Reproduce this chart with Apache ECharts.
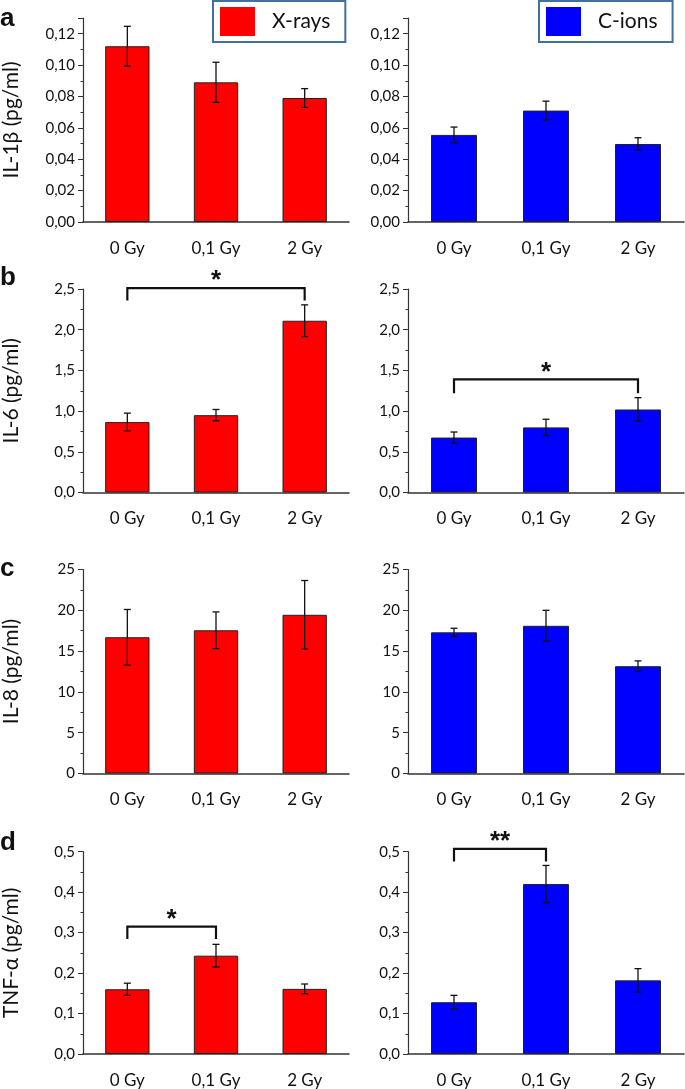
<!DOCTYPE html>
<html>
<head>
<meta charset="utf-8">
<script src="https://cdn.jsdelivr.net/npm/echarts@6/dist/echarts.min.js"></script>
<style>
html,body{margin:0;padding:0;background:#fff;}
#chart{width:685px;height:1089px;}
</style>
</head>
<body>
<div id="chart"></div>
<script>
// ---- data ----
const categories = ['0 Gy', '0,1 Gy', '2 Gy'];
const seriesNames = ['X-rays', 'C-ions'];
const panelLetters = ['a', 'b', 'c', 'd'];
const yTitles = ['IL-1β (pg/ml)', 'IL-6 (pg/ml)', 'IL-8 (pg/ml)', 'TNF-α (pg/ml)'];

const il1bXrays = [0.112, 0.089, 0.079];
const il1bXraysErr = [0.0127, 0.0128, 0.006];
const il1bCions = [0.0555, 0.071, 0.0497];
const il1bCionsErr = [0.005, 0.006, 0.004];

const il6Xrays = [0.865, 0.95, 2.11];
const il6XraysErr = [0.11, 0.07, 0.195];
const il6Cions = [0.675, 0.80, 1.02];
const il6CionsErr = [0.068, 0.10, 0.145];

const il8Xrays = [16.7, 17.55, 19.45];
const il8XraysErr = [3.4, 2.25, 4.2];
const il8Cions = [17.3, 18.1, 13.15];
const il8CionsErr = [0.5, 1.9, 0.65];

const tnfXrays = [0.16, 0.243, 0.161];
const tnfXraysErr = [0.015, 0.028, 0.012];
const tnfCions = [0.128, 0.42, 0.182];
const tnfCionsErr = [0.017, 0.046, 0.029];

const yMax = [0.13, 2.5, 25, 0.5];
const yInterval = [0.02, 0.5, 5, 0.1];
const yDecimals = [2, 1, 0, 1];

// significance brackets: [fromCategory, toCategory, bracketLevel, legEnd]
const sigXraysB = [0, 2, 2.51, 2.36];
const sigCionsB = [0, 2, 1.39, 1.22];
const sigXraysD = [0, 1, 0.315, 0.284];
const sigCionsD = [0, 1, 0.507, 0.476];
const sigLabels = ['*', '*', '*', '**'];

// ---- layout ----
const colLeft = [76, 408];
const colWidth = [273, 276];
const rowTop = [18, 289, 569.5, 851.7];
const rowHeight = [204, 203.5, 204, 202.6];
const letterTop = [6, 265, 556, 830];
const colors = ['#ff0000', '#0000ff'];
const FONT = 'Lato';

const means = [[il1bXrays, il1bCions], [il6Xrays, il6Cions], [il8Xrays, il8Cions], [tnfXrays, tnfCions]];
const errs = [[il1bXraysErr, il1bCionsErr], [il6XraysErr, il6CionsErr], [il8XraysErr, il8CionsErr], [tnfXraysErr, tnfCionsErr]];
const sigs = [
  {r: 1, c: 0, d: sigXraysB, t: sigLabels[0]},
  {r: 1, c: 1, d: sigCionsB, t: sigLabels[1]},
  {r: 3, c: 0, d: sigXraysD, t: sigLabels[2]},
  {r: 3, c: 1, d: sigCionsD, t: sigLabels[3]}
];

const grid = [], xAxis = [], yAxis = [], series = [];
let gi = 0;
const gridIndexOf = {};
for (let r = 0; r < 4; r++) {
  for (let c = 0; c < 2; c++) {
    grid.push({left: colLeft[c], width: colWidth[c], top: rowTop[r], height: rowHeight[r], containLabel: false});
    gridIndexOf[r + '_' + c] = gi;
    const dec = yDecimals[r];
    const ratio = yMax[r] / yInterval[r];
    xAxis.push({
      type: 'category', gridIndex: gi, data: categories,
      axisLine: {lineStyle: {color: '#333', width: 1.5}},
      axisTick: {alignWithLabel: true, length: 4, lineStyle: {color: '#333', width: 1}},
      axisLabel: {margin: 18, fontSize: 17, color: '#111', fontFamily: FONT}
    });
    xAxis.push({
      type: 'category', gridIndex: gi, data: categories,
      axisLine: {show: false},
      axisTick: {alignWithLabel: false, length: 3, lineStyle: {color: '#333', width: 1}},
      axisLabel: {show: false}
    });
    yAxis.push({
      type: 'value', gridIndex: gi, min: 0, max: yMax[r], interval: yInterval[r],
      name: c === 0 ? yTitles[r] : '', nameLocation: 'middle', nameRotate: 90, nameGap: 61,
      nameTextStyle: {fontSize: 21, color: '#111', fontFamily: FONT},
      splitLine: {show: false},
      axisLine: {show: true, lineStyle: {color: '#333', width: 1.2}},
      axisTick: {show: true, length: 5, lineStyle: {color: '#333'}},
      minorTick: {show: true, splitNumber: 2, length: 2.5, lineStyle: {color: '#333'}},
      axisLabel: {showMaxLabel: Math.abs(ratio - Math.round(ratio)) < 1e-6,
        margin: 8, fontSize: 15, color: '#111', fontFamily: FONT,
        formatter: v => v.toFixed(dec).replace('.', ',')}
    });
    const m = means[r][c], e = errs[r][c];
    series.push({
      name: seriesNames[c], type: 'bar', xAxisIndex: gi * 2, yAxisIndex: gi,
      data: m, barWidth: '50%',
      itemStyle: {color: colors[c], borderColor: '#222', borderWidth: 1},
      silent: true, animation: false
    });
    series.push({
      type: 'custom', xAxisIndex: gi * 2, yAxisIndex: gi, animation: false, silent: true, z: 5,
      data: m.map((v, i) => [i, v - e[i], v + e[i]]),
      renderItem: function (params, api) {
        const hi = api.coord([api.value(0), api.value(2)]);
        const lo = api.coord([api.value(0), api.value(1)]);
        const cw = 3.5;
        const st = {stroke: '#111', lineWidth: 1.3};
        return {type: 'group', children: [
          {type: 'line', shape: {x1: hi[0], y1: hi[1], x2: lo[0], y2: lo[1]}, style: st},
          {type: 'line', shape: {x1: hi[0] - cw, y1: hi[1], x2: hi[0] + cw, y2: hi[1]}, style: st},
          {type: 'line', shape: {x1: lo[0] - cw, y1: lo[1], x2: lo[0] + cw, y2: lo[1]}, style: st}
        ]};
      }
    });
    gi++;
  }
}

sigs.forEach(s => {
  const g = gridIndexOf[s.r + '_' + s.c];
  series.push({
    type: 'custom', xAxisIndex: g * 2, yAxisIndex: g, animation: false, silent: true, z: 6, clip: false,
    data: [s.d],
    renderItem: function (params, api) {
      const a = api.coord([api.value(0), api.value(3)]);
      const b = api.coord([api.value(0), api.value(2)]);
      const cc = api.coord([api.value(1), api.value(2)]);
      const d = api.coord([api.value(1), api.value(3)]);
      return {type: 'group', children: [
        {type: 'polyline', shape: {points: [a, b, cc, d]}, style: {stroke: '#111', lineWidth: 2.2, fill: null}},
        {type: 'text', x: (b[0] + cc[0]) / 2, y: b[1] + 6,
          style: {text: s.t, fill: '#111', fontSize: 26, fontWeight: 'bold', fontFamily: 'Liberation Sans',
            align: 'center', verticalAlign: 'bottom', textAlign: 'center', textVerticalAlign: 'bottom'}}
      ]};
    }
  });
});

const option = {
  backgroundColor: '#fff',
  animation: false,
  title: panelLetters.map((t, r) => ({
    text: t, left: 0, top: letterTop[r], padding: 0,
    textStyle: {fontSize: 26, fontWeight: 'bold', color: '#111', fontFamily: 'Liberation Sans'}
  })),
  legend: [0, 1].map(c => ({
    data: [seriesNames[c]],
    left: c === 0 ? 213 : 539, top: 1,
    borderColor: '#41719C', borderWidth: 2,
    padding: [6, 15, 6, 7],
    itemWidth: 35, itemHeight: 29, icon: 'rect',
    itemStyle: {borderWidth: 0},
    selectedMode: false,
    textStyle: {fontSize: 21, color: '#111', fontFamily: FONT, padding: [0, 0, 0, 12]}
  })),
  grid: grid,
  xAxis: xAxis,
  yAxis: yAxis,
  series: series
};

const chart = echarts.init(document.getElementById('chart'), null, {renderer: 'canvas'});
chart.setOption(option);
</script>
</body>
</html>
